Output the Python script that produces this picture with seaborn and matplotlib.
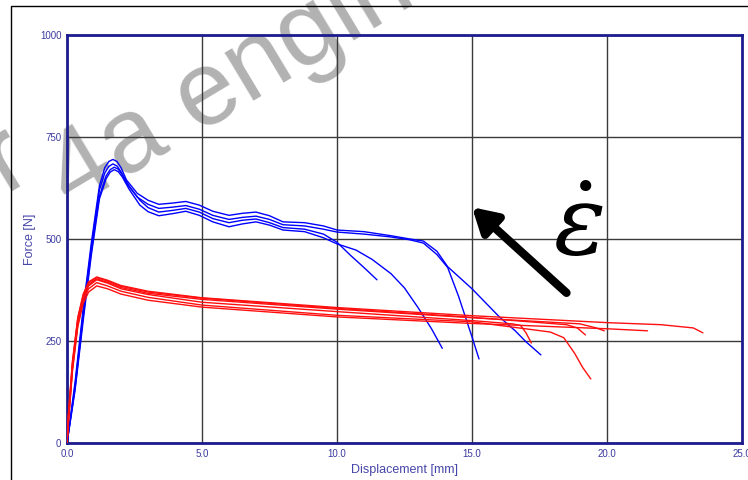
import matplotlib
matplotlib.use("Agg")
import matplotlib.pyplot as plt
from matplotlib.patches import Rectangle
import numpy as np
import pandas as pd
import seaborn as sns

# ---- force–displacement curves (displacement in mm, force in N) ----
# fast strain rate (blue)
blue_a_x = [0.0, 0.3, 0.6, 0.9, 1.2, 1.4, 1.55, 1.7, 1.85, 2.0, 2.2, 2.6, 3.0, 3.4, 3.9, 4.4, 4.9, 5.4, 6.0, 6.5, 7.0, 7.5, 8.0, 8.8, 9.5, 10.0, 11.0, 12.0, 12.7, 13.2, 13.7, 14.1, 15.0, 16.0, 16.6, 17.0, 17.55]
blue_a_y = [0, 150, 330, 490, 630, 675, 690, 695, 690, 675, 645, 612, 595, 585, 588, 592, 583, 568, 558, 563, 566, 557, 542, 540, 532, 522, 518, 508, 500, 495, 470, 432, 378, 310, 275, 248, 216]

blue_b_x = [0.0, 0.3, 0.6, 0.9, 1.2, 1.4, 1.55, 1.7, 1.85, 2.0, 2.2, 2.6, 3.0, 3.4, 3.9, 4.4, 4.9, 5.4, 6.0, 6.5, 7.0, 7.5, 8.0, 8.8, 9.5, 10.0, 11.0, 12.0, 12.7, 13.2, 13.7, 14.1, 14.5, 14.8, 15.0, 15.26]
blue_b_y = [0, 140, 320, 480, 620, 662, 678, 684, 679, 665, 637, 603, 585, 575, 578, 582, 573, 558, 548, 553, 556, 548, 535, 532, 524, 517, 512, 505, 498, 490, 462, 430, 360, 300, 260, 206]

blue_c_x = [0.0, 0.3, 0.6, 0.9, 1.2, 1.45, 1.6, 1.75, 1.9, 2.05, 2.3, 2.7, 3.0, 3.4, 3.9, 4.4, 4.9, 5.4, 6.0, 6.5, 7.0, 7.5, 8.0, 8.8, 9.5, 10.0, 10.5, 11.0, 11.48]
blue_c_y = [0, 135, 310, 470, 605, 655, 670, 676, 671, 658, 630, 595, 577, 566, 570, 575, 566, 550, 540, 546, 549, 540, 528, 524, 512, 492, 460, 430, 400]

blue_d_x = [0.0, 0.3, 0.6, 0.9, 1.2, 1.45, 1.6, 1.75, 1.9, 2.05, 2.3, 2.7, 3.0, 3.4, 3.9, 4.4, 4.9, 5.4, 6.0, 6.5, 7.0, 7.5, 8.0, 8.8, 9.5, 10.0, 10.7, 11.3, 12.0, 12.5, 13.0, 13.5, 13.9]
blue_d_y = [0, 130, 300, 460, 598, 648, 664, 670, 665, 652, 622, 583, 567, 557, 562, 568, 558, 542, 530, 537, 542, 534, 522, 518, 503, 488, 473, 450, 415, 380, 332, 280, 232]

# slow strain rate (red)
red_1_x = [0.0, 0.05, 0.2, 0.4, 0.6, 0.8, 1.1, 1.5, 2.0, 3.0, 5.0, 10.0, 15.0, 16.5, 16.8, 17.0, 17.2]
red_1_y = [0, 55, 185, 295, 355, 385, 400, 392, 378, 364, 345, 322, 300, 292, 288, 270, 245]

red_2_x = [0.0, 0.05, 0.2, 0.4, 0.6, 0.8, 1.1, 1.5, 2.0, 3.0, 5.0, 10.0, 15.0, 17.9, 18.4, 18.8, 19.1, 19.4]
red_2_y = [0, 50, 180, 290, 350, 378, 393, 385, 372, 357, 338, 313, 297, 272, 258, 220, 185, 157]

red_3_x = [0.0, 0.05, 0.2, 0.4, 0.6, 0.8, 1.1, 1.5, 2.0, 3.0, 5.0, 10.0, 15.0, 18.5, 18.9, 19.2]
red_3_y = [0, 65, 195, 305, 362, 392, 405, 397, 384, 370, 355, 330, 308, 290, 282, 265]

red_4_x = [0.0, 0.05, 0.2, 0.4, 0.6, 0.8, 1.1, 1.5, 2.0, 3.0, 5.0, 10.0, 15.0, 19.0, 19.6, 19.9]
red_4_y = [0, 60, 190, 300, 358, 388, 402, 394, 381, 367, 352, 328, 307, 292, 282, 275]

red_5_x = [0.0, 0.05, 0.2, 0.4, 0.6, 0.8, 1.1, 1.5, 2.0, 3.0, 5.0, 10.0, 15.0, 20.0, 21.5]
red_5_y = [0, 45, 175, 285, 342, 370, 385, 378, 365, 350, 333, 309, 293, 280, 275]

red_6_x = [0.0, 0.05, 0.2, 0.4, 0.6, 0.8, 1.1, 1.5, 2.0, 3.0, 5.0, 10.0, 15.0, 20.0, 22.0, 23.2, 23.55]
red_6_y = [0, 70, 200, 308, 365, 395, 407, 399, 386, 372, 356, 332, 312, 295, 290, 282, 270]

x_ticks = [0.0, 5.0, 10.0, 15.0, 20.0, 25.0]
x_tick_labels = ["0.0", "5.0", "10.0", "15.0", "20.0", "25.0"]
y_ticks = [0, 250, 500, 750, 1000]
y_tick_labels = ["0", "250", "500", "750", "1000"]

curves = {
    "B1": (blue_a_x, blue_a_y), "B2": (blue_b_x, blue_b_y),
    "B3": (blue_c_x, blue_c_y), "B4": (blue_d_x, blue_d_y),
    "R1": (red_1_x, red_1_y), "R2": (red_2_x, red_2_y), "R3": (red_3_x, red_3_y),
    "R4": (red_4_x, red_4_y), "R5": (red_5_x, red_5_y), "R6": (red_6_x, red_6_y),
}
frames = []
for name, (xs, ys) in curves.items():
    frames.append(pd.DataFrame({"disp": xs, "force": ys, "specimen": name}))
df = pd.concat(frames, ignore_index=True)
palette = {k: ("#0000ff" if k.startswith("B") else "#ff1010") for k in curves}

sns.set_theme(style="white")
plt.rcParams["font.family"] = ["Liberation Sans", "DejaVu Sans"]
plt.rcParams["mathtext.fontset"] = "dejavuserif"

fig = plt.figure(figsize=(7.48, 4.80), dpi=100, facecolor="white")
ax = fig.add_axes([67 / 748, 37 / 480, 675 / 748, 408 / 480])
ax.set_facecolor("none")

sns.lineplot(data=df, x="disp", y="force", hue="specimen", units="specimen",
             palette=palette, estimator=None, sort=False, legend=False,
             linewidth=1.0, ax=ax, zorder=3)

ax.set_xlim(0, 25)
ax.set_ylim(0, 1000)
ax.set_xticks(x_ticks)
ax.set_xticklabels(x_tick_labels)
ax.set_yticks(y_ticks)
ax.set_yticklabels(y_tick_labels)
ax.tick_params(axis="both", length=0, labelsize=7, labelcolor="#3a3aa0", pad=4)
ax.grid(True, color="#3a3a3a", linewidth=1.0, zorder=1)
for sp in ax.spines.values():
    sp.set_color("#1c1c8e")
    sp.set_linewidth(2.0)
ax.set_xlabel("Displacement [mm]", fontsize=9, color="#4646aa", labelpad=4)
ax.set_ylabel("Force [N]", fontsize=9, color="#4646aa", labelpad=3)

# outer frame around the plot
fig.patches.append(Rectangle((11 / 748, -0.2), 1.2, 1.2 - 6 / 480,
                             transform=fig.transFigure, fill=False,
                             edgecolor="black", linewidth=1.0, zorder=-5))

# watermark behind the chart
wm_kw = dict(fontsize=76, color="#b2b2b2", rotation=31, rotation_mode="anchor",
             va="baseline", zorder=-10, family="Liberation Sans")
fig.text(62 / 748, 1 - 162 / 480, "Chapter ", ha="right", **wm_kw)
fig.text(72 / 748, 1 - 210 / 480, "4a engineering", ha="left", **wm_kw)

# strain-rate arrow and symbol
ax.annotate("", xy=(15.0, 578), xytext=(18.5, 368),
            arrowprops=dict(arrowstyle="-|>,head_length=1.2,head_width=0.7",
                            color="black", lw=6, shrinkA=0, shrinkB=0),
            zorder=5)
ax.text(18.95, 522, r"$\dot{\varepsilon}$", fontsize=70, color="black",
        ha="center", va="center", zorder=5)

fig.savefig("out.png", dpi=100, facecolor="white")
